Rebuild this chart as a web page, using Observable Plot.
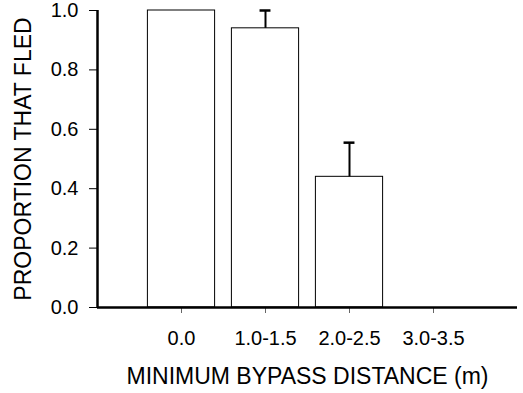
<!DOCTYPE html>
<html><head><meta charset="utf-8">
<script src="https://cdn.jsdelivr.net/npm/d3@7"></script>
<script src="https://cdn.jsdelivr.net/npm/@observablehq/plot@0.6"></script>
<style>body{margin:0;background:#fff}</style>
</head><body><div id="chart"></div>
<script>
const categories = ["0.0", "1.0-1.5", "2.0-2.5", "3.0-3.5"];
const proportions = [1.0, 0.94, 0.44, 0];
const errors = [0, 0.06, 0.115, 0];
const yTicks = [0, 0.2, 0.4, 0.6, 0.8, 1.0];

const data = categories.map((c, i) => ({cat: c, pos: i + 1, p: proportions[i], e: errors[i]}));
const bars = data.filter(d => d.p > 0);
const errs = data.filter(d => d.e > 0);
const font = "'Liberation Sans', Arial, sans-serif";

const chart = Plot.plot({
  width: 523, height: 393,
  marginLeft: 97, marginRight: 6, marginTop: 10, marginBottom: 86,
  style: {fontFamily: font, background: "#fff", color: "#000"},
  x: {domain: [0, 5]},
  y: {domain: [0, 1]},
  marks: [
    Plot.rectY(bars, {x1: d => d.pos - 0.4, x2: d => d.pos + 0.4, y1: 0, y2: "p", fill: "white", stroke: "black", strokeWidth: 1}),
    Plot.ruleX(errs, {x: "pos", y1: "p", y2: d => d.p + d.e, stroke: "black", strokeWidth: 2}),
    Plot.ruleY(errs, {y: d => d.p + d.e, x1: d => d.pos - 0.065, x2: d => d.pos + 0.065, stroke: "black", strokeWidth: 2.5}),
    Plot.axisY({ticks: yTicks, tickFormat: d3.format(".1f"), tickSize: 8, tickPadding: 11, fontSize: 20, label: null}),
    Plot.axisX({ticks: data.map(d => d.pos), tickFormat: i => categories[i - 1], tickSize: 6, tickPadding: 17, fontSize: 20, label: null, stroke: "#666"}),
    Plot.ruleX([0], {y1: 0, y2: 1, strokeWidth: 2.5}),
    Plot.ruleY([0], {strokeWidth: 2.5}),
    Plot.text(["PROPORTION THAT FLED"], {frameAnchor: "left", textAnchor: "middle", lineAnchor: "middle", rotate: -90, dx: -74, fontSize: 23}),
    Plot.text(["MINIMUM BYPASS DISTANCE (m)"], {frameAnchor: "bottom", textAnchor: "middle", lineAnchor: "middle", dy: 69, fontSize: 23})
  ]
});
document.getElementById("chart").appendChild(chart);
</script>
</body></html>
